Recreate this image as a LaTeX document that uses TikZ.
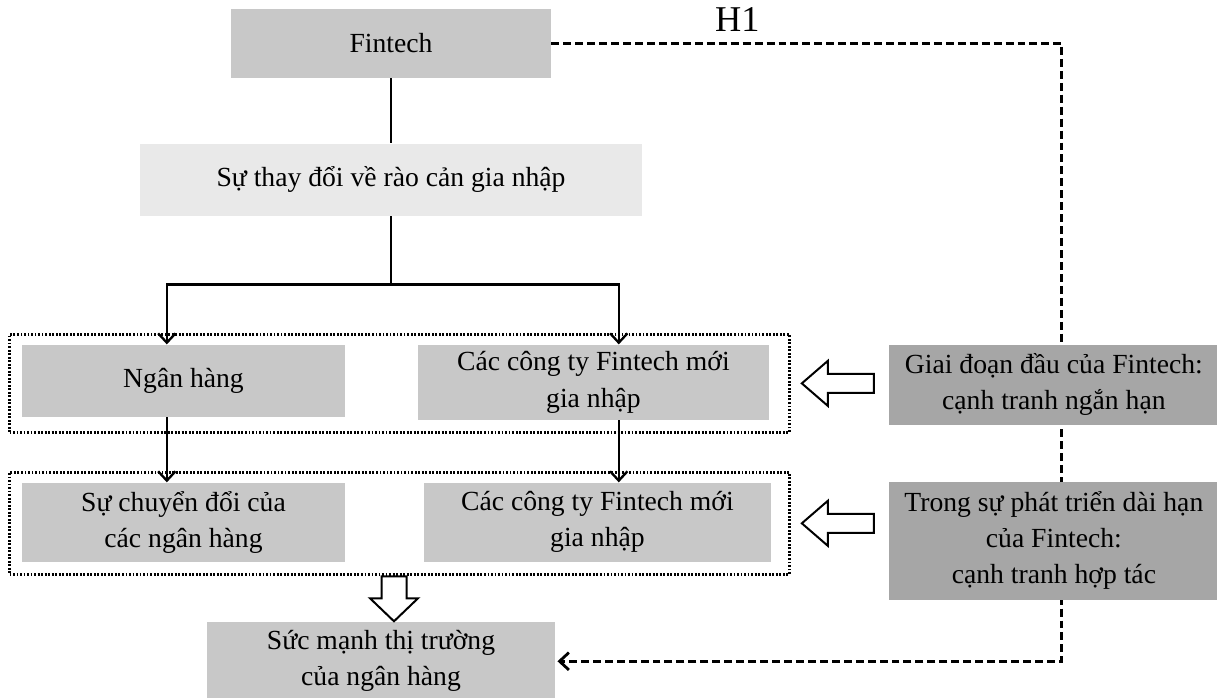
\documentclass[tikz,border=0pt]{standalone}
\usepackage{fontspec}
\setmainfont{Liberation Serif}
\usetikzlibrary{positioning,arrows.meta,fit,backgrounds,calc}
\definecolor{boxmid}{RGB}{200,200,200}
\definecolor{boxlight}{RGB}{233,233,233}
\definecolor{boxdark}{RGB}{166,166,166}

\begin{document}
\begin{tikzpicture}[
  font=\fontsize{11.8}{15.4}\selectfont,
  >={Straight Barb[length=1.4mm, width=2.6mm]},
  cbox/.style={fill=boxmid, draw=none, align=center, inner sep=2pt},
  lbox/.style={cbox, fill=boxlight},
  dbox/.style={cbox, fill=boxdark},
  grp/.style={draw=black, line width=1.2pt, dash pattern=on 0.8pt off 0.7pt, inner sep=0pt},
  link/.style={line width=1pt, draw=black},
  flow/.style={link, ->},
  h1link/.style={->, line width=1.2pt, dash pattern=on 3.4pt off 1.7pt},
  hollow/.style={draw=black, line width=0.85pt, fill=white, line join=miter},
]
\useasboundingbox (0,0) rectangle (182.55mm,-104.55mm);

% ---- top of the chain ----
\node[cbox, minimum width=48mm, minimum height=10.35mm] (fintech) at (58.65mm,-6.525mm) {Fintech};
\node[lbox, below=9.75mm of fintech, minimum width=75.3mm, minimum height=10.8mm] (barrier)
  {Sự thay đổi về rào cản gia nhập};

% ---- first group: short run ----
\node[cbox, below right=19.2mm and -17.7mm of barrier.south west,
      minimum width=48.45mm, minimum height=10.8mm] (bank) {Ngân hàng};
\node[cbox, right=10.8mm of bank.north east, anchor=north west,
      minimum width=52.65mm, minimum height=11.25mm] (newfirm1)
  {Các công ty Fintech mới\\gia nhập};
\node[dbox, right=17.85mm of newfirm1.north east, anchor=north west,
      minimum width=49.5mm, minimum height=12mm] (stage1)
  {Giai đoạn đầu của Fintech:\\cạnh tranh ngắn hạn};

% ---- second group: long run ----
\node[cbox, below=9.75mm of bank, minimum width=48.45mm, minimum height=11.85mm] (transf)
  {Sự chuyển đổi của\\các ngân hàng};
\node[cbox, right=11.7mm of transf.north east, anchor=north west,
      minimum width=52.05mm, minimum height=11.85mm] (newfirm2)
  {Các công ty Fintech mới\\gia nhập};
\node[dbox, below=8.4mm of stage1.south west, anchor=north west,
      minimum width=49.5mm, minimum height=17.7mm] (stage2)
  {Trong sự phát triển dài hạn\\của Fintech:\\cạnh tranh hợp tác};

% ---- outcome ----
\node[cbox, below right=8.85mm and 27.75mm of transf.south west,
      minimum width=52.2mm, minimum height=11.85mm] (power)
  {Sức mạnh thị trường\\của ngân hàng};

% ---- dotted groups ----
\coordinate (g1a) at ([shift={(-1.8mm,1.5mm)}]bank.north west);
\coordinate (g1b) at ([shift={(3mm,-1.8mm)}]newfirm1.south east);
\coordinate (g2a) at ([shift={(-1.8mm,1.5mm)}]transf.north west);
\coordinate (g2b) at ([shift={(2.7mm,-1.8mm)}]newfirm2.south east);
\node[grp, fit=(g1a)(g1b)] (grp1) {};
\node[grp, fit=(g2a)(g2b)] (grp2) {};

% ---- edges ----
\draw[link] (fintech) -- (barrier);
\draw[link] (barrier.south) -- ++(0,-10.2mm) coordinate (fork);
\draw[flow] (fork) -| ([xshift=-2.5mm]bank.north);
\draw[flow] (fork) -| ([xshift=3.8mm]newfirm1.north);
\draw[flow] ([xshift=-2.5mm]bank.south) -- ([xshift=-2.5mm]transf.north);
\draw[flow] ([xshift=3.8mm]newfirm1.south) -- ([xshift=3.8mm]newfirm1.south |- newfirm2.north);

% hollow block arrows
\draw[hollow] ([xshift=1.65mm]grp1.east) -- ++(3.9mm,3.375mm) -- ++(0,-1.95mm) -- ++(6.9mm,0)
  -- ++(0,-2.85mm) -- ++(-6.9mm,0) -- ++(0,-1.95mm) -- cycle;
\draw[hollow] ([xshift=1.65mm]grp2.east) -- ++(3.9mm,3.375mm) -- ++(0,-1.95mm) -- ++(6.9mm,0)
  -- ++(0,-2.85mm) -- ++(-6.9mm,0) -- ++(0,-1.95mm) -- cycle;
\draw[hollow] ([xshift=0.45mm]barrier.south |- power.north) -- ++(-3.6mm,3.45mm) -- ++(1.725mm,0)
  -- ++(0,3.3mm) -- ++(3.75mm,0) -- ++(0,-3.3mm) -- ++(1.725mm,0) -- cycle;

% H1 dashed link, behind the stage boxes
\coordinate (corner) at ([xshift=1.2mm]stage1.center |- power.east);
\begin{scope}[on background layer]
  \draw[h1link] (fintech.east) -| node[pos=0.182, above=1.6mm, inner sep=0pt,
        font=\fontsize{15.5}{18}\selectfont] (h1) {H1} (corner) -- ([xshift=0.3mm]power.east);
\end{scope}

\end{tikzpicture}
\end{document}
